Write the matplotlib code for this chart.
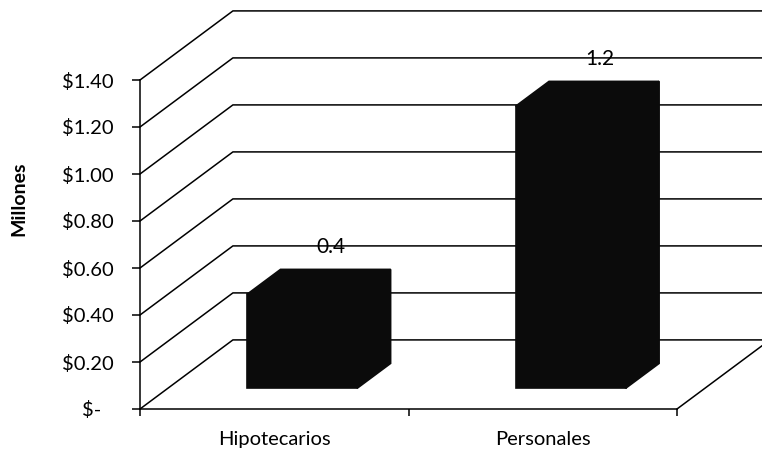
import matplotlib
matplotlib.use("Agg")
import matplotlib.pyplot as plt
from matplotlib.patches import Polygon
from matplotlib.transforms import ScaledTranslation

categories = ["Hipotecarios", "Personales"]
values = [0.4, 1.2]
value_labels = ["0.4", "1.2"]
y_ticks = [0.0, 0.2, 0.4, 0.6, 0.8, 1.0, 1.2, 1.4]
y_tick_labels = ["$-", "$0.20", "$0.40", "$0.60", "$0.80", "$1.00", "$1.20", "$1.40"]

# oblique projection of the depth axis, in data units (depth 0 = front, 1 = back wall)
DEPTH_X = 0.346
DEPTH_Y = 0.294
BAR_WIDTH = 0.41
BAR_FRONT, BAR_BACK = 0.30, 0.66
BAR_COLOR = "#0b0b0b"
LINE = dict(color="black", lw=1.1, clip_on=False, zorder=1)


def proj(x, v, d):
    return x + d * DEPTH_X, v + d * DEPTH_Y


plt.rcParams["font.family"] = ["Lato", "DejaVu Sans"]

fig = plt.figure(figsize=(7.62, 4.51), dpi=100)
ax = fig.add_axes([140 / 762, 42 / 451, 537 / 762, 329 / 451])
ax.set_xlim(0, 2)
ax.set_ylim(0, 1.4)

# side wall and back wall gridlines
for v in y_ticks:
    pts = [proj(0, v, 0), proj(0, v, 1), proj(2, v, 1)]
    ax.plot([p[0] for p in pts], [p[1] for p in pts], **LINE)
# right edge of the floor
p0, p1 = proj(2, 0, 0), proj(2, 0, 1)
ax.plot([p0[0], p1[0]], [p0[1], p1[1]], **LINE)

# 3d columns
for i, (v, lab) in enumerate(zip(values, value_labels)):
    c = i + 0.5
    x0, x1 = c - BAR_WIDTH / 2, c + BAR_WIDTH / 2
    df, db = BAR_FRONT, BAR_BACK
    faces = [
        [proj(x0, 0, df), proj(x1, 0, df), proj(x1, v, df), proj(x0, v, df)],
        [proj(x0, v, df), proj(x1, v, df), proj(x1, v, db), proj(x0, v, db)],
        [proj(x1, 0, df), proj(x1, 0, db), proj(x1, v, db), proj(x1, v, df)],
    ]
    for f in faces:
        ax.add_patch(Polygon(f, closed=True, facecolor=BAR_COLOR, edgecolor=BAR_COLOR,
                             lw=1.2, zorder=3, clip_on=False))
    ax.annotate(lab, xy=proj(c, v, db), xytext=(-3, 16), textcoords="offset points",
                ha="center", va="center", fontsize=15, zorder=4,
                annotation_clip=False)

for s in ["top", "right"]:
    ax.spines[s].set_visible(False)
for s in ["left", "bottom"]:
    ax.spines[s].set_linewidth(1.1)
    ax.spines[s].set_zorder(2)

ax.set_yticks(y_ticks)
ax.set_yticklabels(y_tick_labels)
ax.tick_params(axis="y", length=6, width=1.1, pad=13, labelsize=14.5)

ax.set_xticks([0, 1, 2])
ax.set_xticklabels([])
ax.tick_params(axis="x", which="major", length=5, width=1.1, direction="out")
ax.set_xticks([0.5, 1.5], minor=True)
ax.set_xticklabels(categories, minor=True)
ax.tick_params(axis="x", which="minor", length=0, pad=16, labelsize=14.5)

# accounting format: the "$-" label sits further left than the others
zero_lab = ax.yaxis.get_major_ticks()[0].label1
zero_lab.set_transform(zero_lab.get_transform() + ScaledTranslation(-0.12, 0, fig.dpi_scale_trans))

fig.text(19 / 762, 1 - 199 / 451, "Millones", rotation=90, ha="center", va="center",
         fontsize=14, fontweight="bold")

ax.patch.set_visible(False)
fig.savefig("out.png", dpi=100)
